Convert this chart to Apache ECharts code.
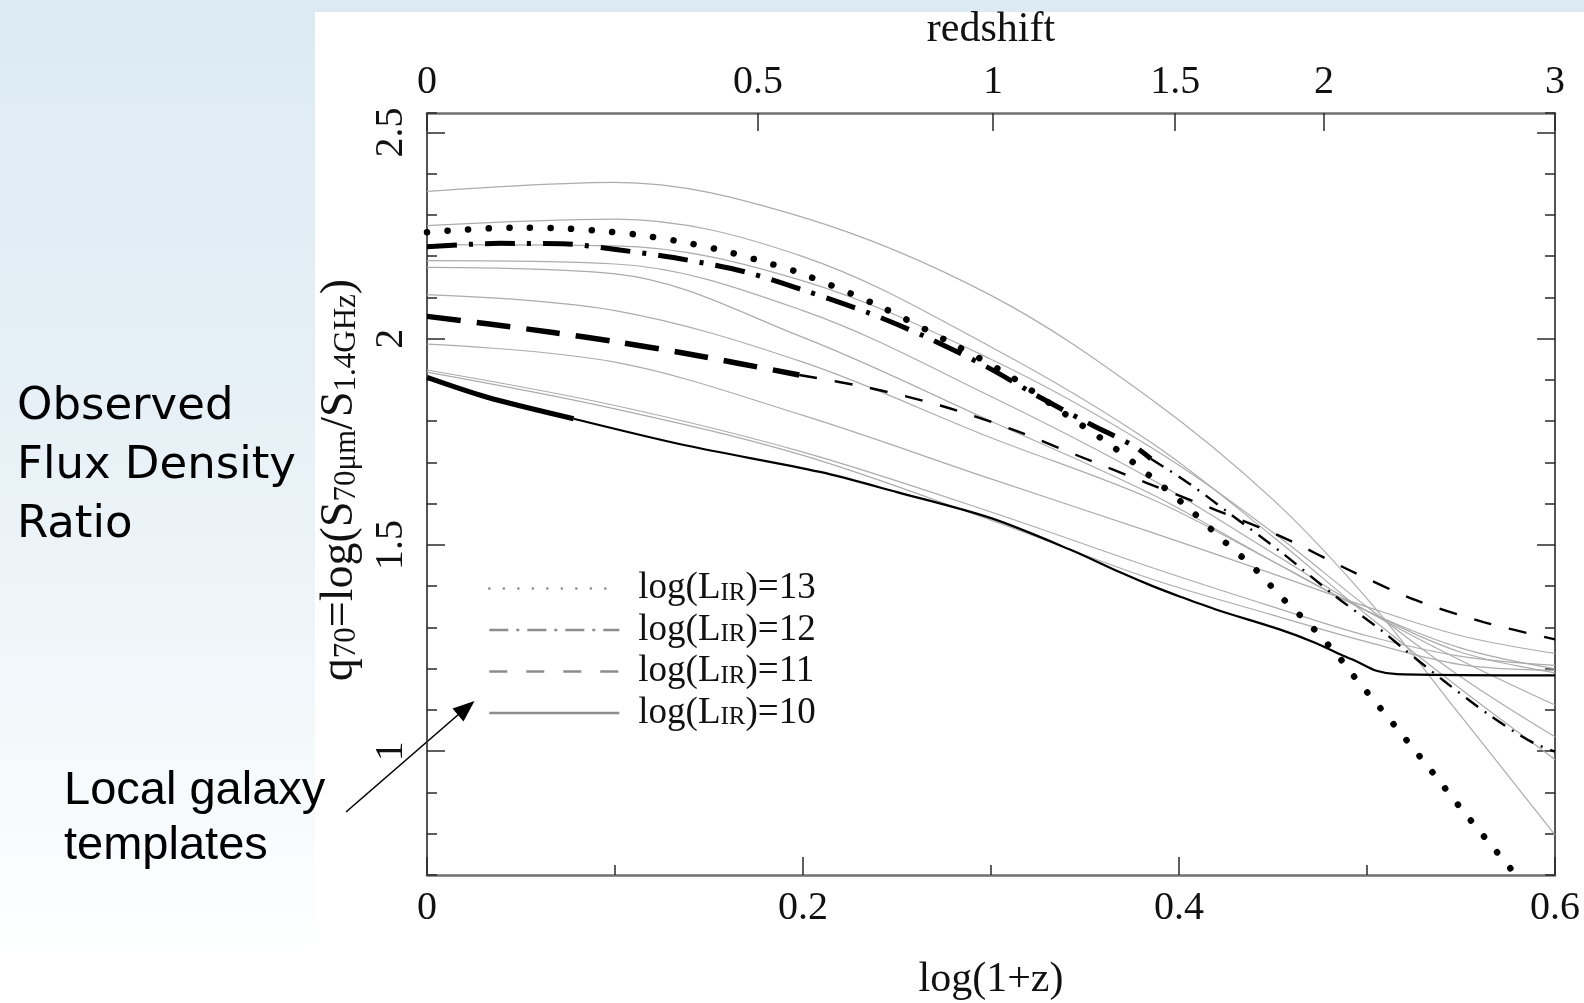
<!DOCTYPE html>
<html>
<head>
<meta charset="utf-8">
<title>q70 versus redshift</title>
<script src="https://cdn.jsdelivr.net/npm/echarts@6/dist/echarts.min.js"></script>
<style>
  html, body { margin: 0; padding: 0; width: 1584px; height: 1003px; overflow: hidden;
    background: linear-gradient(to bottom, #dcebf3 0%, #e6f0f6 40%, #f4f9fb 75%, #ffffff 96%); }
  #sheet { position: absolute; left: 315px; top: 12px; right: 0; bottom: 0; background: #fff; }
  #chart { position: absolute; left: 0; top: 0; width: 1584px; height: 1003px; }
</style>
</head>
<body>
<div id="sheet"></div>
<div id="chart"></div>
<script>
// axis ticks
var xTicks = [0, 0.2, 0.4, 0.6];
var redshiftTicks = [0, 0.5, 1, 1.5, 2, 3];
var yMajorTicks = [1, 1.5, 2, 2.5];

// black model curves [log(1+z), q70]
// log(L_IR)=13 (dotted)
var lum13 = [[0, 2.258], [0.045, 2.269], [0.068, 2.268], [0.09, 2.262], [0.112, 2.252], [0.134, 2.236],
  [0.156, 2.215], [0.177, 2.189], [0.198, 2.16], [0.24, 2.08], [0.279, 1.989], [0.31, 1.91],
  [0.336, 1.828], [0.364, 1.741], [0.39, 1.647], [0.407, 1.581], [0.423, 1.513], [0.44, 1.444],
  [0.455, 1.371], [0.471, 1.30], [0.486, 1.223], [0.493, 1.182], [0.507, 1.105], [0.521, 1.027],
  [0.535, 0.948], [0.549, 0.867], [0.563, 0.789], [0.577, 0.712], [0.579, 0.70]];
// log(L_IR)=12 (dash-dot), heavy part then light part
var lum12Head = [[0, 2.223], [0.039, 2.231], [0.072, 2.23], [0.1025, 2.215], [0.138, 2.191], [0.17, 2.161],
  [0.2, 2.118], [0.234, 2.064], [0.266, 2.003], [0.298, 1.931], [0.326, 1.858], [0.354, 1.79],
  [0.3755, 1.741], [0.385, 1.709]];
var lum12Tail = [[0.385, 1.709], [0.4057, 1.648], [0.427, 1.576], [0.4553, 1.479], [0.4837, 1.374],
  [0.5085, 1.29], [0.519, 1.25], [0.5422, 1.166], [0.5653, 1.087], [0.5865, 1.025], [0.6, 0.999]];
// log(L_IR)=11 (dashed)
var lum11Head = [[0, 2.054], [0.032, 2.036], [0.067, 2.015], [0.1025, 1.991], [0.134, 1.967],
  [0.166, 1.94], [0.198, 1.912]];
var lum11Tail = [[0.198, 1.912], [0.234, 1.882], [0.273, 1.838], [0.312, 1.779], [0.347, 1.715],
  [0.383, 1.65], [0.42, 1.584], [0.455, 1.519], [0.491, 1.438], [0.526, 1.366], [0.562, 1.313], [0.6, 1.271]];
// log(L_IR)=10 (solid)
var lum10Head = [[0, 1.906], [0.032, 1.858], [0.078, 1.806]];
var lum10Tail = [[0.078, 1.806], [0.138, 1.741], [0.209, 1.677], [0.25, 1.628], [0.3, 1.565], [0.342, 1.489],
  [0.369, 1.433], [0.385, 1.402], [0.401, 1.374], [0.42, 1.343], [0.455, 1.293], [0.473, 1.262],
  [0.487, 1.232], [0.494, 1.219], [0.505, 1.195], [0.516, 1.187], [0.6, 1.184]];

// grey local galaxy templates, sampled at templateX
var templateX = [0, 0.1, 0.2, 0.3, 0.385, 0.45, 0.5, 0.55, 0.6];
var templateQ = [
  [2.357, 2.379, 2.294, 2.105, 1.854, 1.610, 1.370, 1.085, 0.797],
  [2.274, 2.290, 2.199, 1.980, 1.749, 1.520, 1.330, 1.150, 0.980],
  [2.228, 2.225, 2.140, 1.950, 1.737, 1.530, 1.350, 1.180, 1.035],
  [2.189, 2.181, 2.068, 1.860, 1.660, 1.480, 1.340, 1.220, 1.112],
  [2.173, 2.157, 2.003, 1.800, 1.624, 1.460, 1.340, 1.250, 1.200],
  [2.107, 2.068, 1.943, 1.760, 1.612, 1.460, 1.340, 1.240, 1.190],
  [1.987, 1.943, 1.814, 1.660, 1.531, 1.430, 1.350, 1.280, 1.237],
  [1.924, 1.838, 1.725, 1.580, 1.446, 1.350, 1.280, 1.230, 1.208],
  [1.919, 1.830, 1.717, 1.560, 1.418, 1.330, 1.265, 1.210, 1.196]
];

var serif = "'Liberation Serif', 'Times New Roman', serif";
var frameDark = '#2a2a2a';
var frameGray = '#707070';
var yMin = 0.7, yMax = 2.547;

var redshiftPos = redshiftTicks.map(function (z) { return Math.min(Math.log10(1 + z), 0.6); });

function templateSeries(row) {
  return {
    type: 'line', symbol: 'none', smooth: 0.35, z: 1, silent: true,
    itemStyle: { color: '#acacac' },
    lineStyle: { color: '#acacac', width: 1.2 },
    data: templateX.map(function (x, i) { return [x, row[i]]; })
  };
}

function modelSeries(name, data, width, dash, cap) {
  return {
    name: name, type: 'line', symbol: 'none', smooth: 0.3, z: 3, silent: true,
    itemStyle: { color: '#000' },
    lineStyle: { color: '#000', width: width, type: dash, cap: cap || 'butt' },
    data: data
  };
}

var series = templateQ.map(templateSeries).concat([
  modelSeries('log(L_IR)=13', lum13, 6.5, [0.1, 20.5], 'round'),
  modelSeries('log(L_IR)=12', lum12Head, 5, [30, 12, 4, 12]),
  modelSeries('log(L_IR)=12', lum12Tail, 2.4, [15, 8, 2, 8]),
  modelSeries('log(L_IR)=11', lum11Head, 5.5, [34, 16]),
  modelSeries('log(L_IR)=11', lum11Tail, 2.4, [18, 18]),
  modelSeries('log(L_IR)=10', lum10Head, 5, 'solid'),
  modelSeries('log(L_IR)=10', lum10Tail, 2.2, 'solid')
]);

function yAxisPart(pos, major, withLabels) {
  return {
    type: 'value', position: pos, min: yMin, max: yMax,
    interval: major ? undefined : 0.1,
    splitLine: { show: false },
    axisLine: { show: !major, lineStyle: { color: frameDark, width: 1.6 } },
    axisTick: major
      ? { show: true, inside: true, length: 18, customValues: yMajorTicks, lineStyle: { color: frameDark, width: 1.5 } }
      : { show: true, inside: true, length: 10, lineStyle: { color: frameDark, width: 1.5 } },
    axisLabel: withLabels
      ? { show: true, customValues: yMajorTicks, rotate: 90, margin: 16, fontFamily: serif, fontSize: 40, color: '#111' }
      : { show: false }
  };
}

var yLeftMajor = yAxisPart('left', true, true);
yLeftMajor.name = '{a|q}{s|70}{a|=log(S}{s|70\u03bcm}{a|/S}{s|1.4GHz}{a|)}';
yLeftMajor.nameLocation = 'middle';
yLeftMajor.nameRotate = 90;
yLeftMajor.nameGap = 57;
yLeftMajor.nameTextStyle = {
  padding: [0, 0, 0, 28],
  rich: {
    a: { fontFamily: serif, fontSize: 46, lineHeight: 44, color: '#111' },
    s: { fontFamily: serif, fontSize: 31, lineHeight: 16, verticalAlign: 'bottom', color: '#111' }
  }
};

var legendRich = {
  p: { fontFamily: serif, fontSize: 37, lineHeight: 34, color: '#111', padding: [0, 0, 0, 14] },
  a: { fontFamily: serif, fontSize: 37, lineHeight: 34, color: '#111' },
  s: { fontFamily: serif, fontSize: 25, lineHeight: 12, verticalAlign: 'bottom', color: '#111' }
};

var legendLine = '#8c8c8c';

var option = {
  animation: false,
  grid: { left: 427, right: 29, top: 113, bottom: 128, containLabel: false, outerBoundsMode: 'none' },
  legend: {
    orient: 'vertical', left: 483, top: 565, itemWidth: 130, itemHeight: 12, itemGap: 4.5,
    selectedMode: false,
    itemStyle: { opacity: 0, borderWidth: 0 },
    data: [
      { name: 'log(L_IR)=13', lineStyle: { color: legendLine, width: 2.6, type: [0.1, 14.4], cap: 'round' } },
      { name: 'log(L_IR)=12', lineStyle: { color: legendLine, width: 2.6, type: [19, 8, 3, 8] } },
      { name: 'log(L_IR)=11', lineStyle: { color: legendLine, width: 2.6, type: [18, 19] } },
      { name: 'log(L_IR)=10', lineStyle: { color: legendLine, width: 2.6, type: 'solid' } }
    ],
    formatter: function (name) {
      return '{p|log(L}{s|IR}{a|)=' + name.split('=')[1] + '}';
    },
    textStyle: { rich: legendRich }
  },
  xAxis: [
    {
      type: 'value', position: 'bottom', min: 0, max: 0.6, interval: 0.2,
      splitLine: { show: false },
      axisLine: { onZero: false, lineStyle: { color: frameGray, width: 2.6 } },
      axisTick: { inside: true, length: 18, lineStyle: { color: frameDark, width: 1.5 } },
      minorTick: { show: true, splitNumber: 2, length: 10, lineStyle: { color: frameDark, width: 1.5 } },
      axisLabel: {
        margin: 13, fontFamily: serif, fontSize: 40, color: '#111',
        formatter: function (v) { return String(Math.round(v * 10) / 10); }
      },
      name: 'log(1+z)', nameLocation: 'middle', nameGap: 84,
      nameTextStyle: { fontFamily: serif, fontSize: 42, color: '#111' }
    },
    {
      type: 'value', position: 'top', min: 0, max: 0.6,
      splitLine: { show: false },
      axisLine: { onZero: false, lineStyle: { color: frameGray, width: 2.6 } },
      axisTick: { inside: true, length: 18, customValues: redshiftPos, lineStyle: { color: frameDark, width: 1.5 } },
      axisLabel: {
        customValues: redshiftPos, margin: 11, fontFamily: serif, fontSize: 40, color: '#111',
        formatter: function (v) { return String(Math.round((Math.pow(10, v) - 1) * 2) / 2); }
      },
      name: 'redshift', nameLocation: 'middle', nameGap: 62,
      nameTextStyle: { fontFamily: serif, fontSize: 42, color: '#111' }
    }
  ],
  yAxis: [
    yAxisPart('left', false, false),
    yLeftMajor,
    yAxisPart('right', false, false),
    yAxisPart('right', true, false)
  ],
  graphic: [
    {
      type: 'text', left: 17, top: 378, silent: true,
      style: { text: 'Observed\nFlux Density\nRatio', font: "45px 'DejaVu Sans'", lineHeight: 59, fill: '#000' }
    },
    {
      type: 'text', left: 64, top: 764, silent: true,
      style: { text: 'Local galaxy\ntemplates', font: "47px 'Liberation Sans'", lineHeight: 55, fill: '#000' }
    },
    { type: 'line', silent: true, shape: { x1: 346, y1: 812, x2: 459, y2: 714 }, style: { stroke: '#000', lineWidth: 1.6 } },
    { type: 'polygon', silent: true, shape: { points: [[474.5, 701], [463.5, 721.5], [452.5, 708.5]] }, style: { fill: '#000' } }
  ],
  series: series
};

var chart = echarts.init(document.getElementById('chart'));
chart.setOption(option);
</script>
</body>
</html>
